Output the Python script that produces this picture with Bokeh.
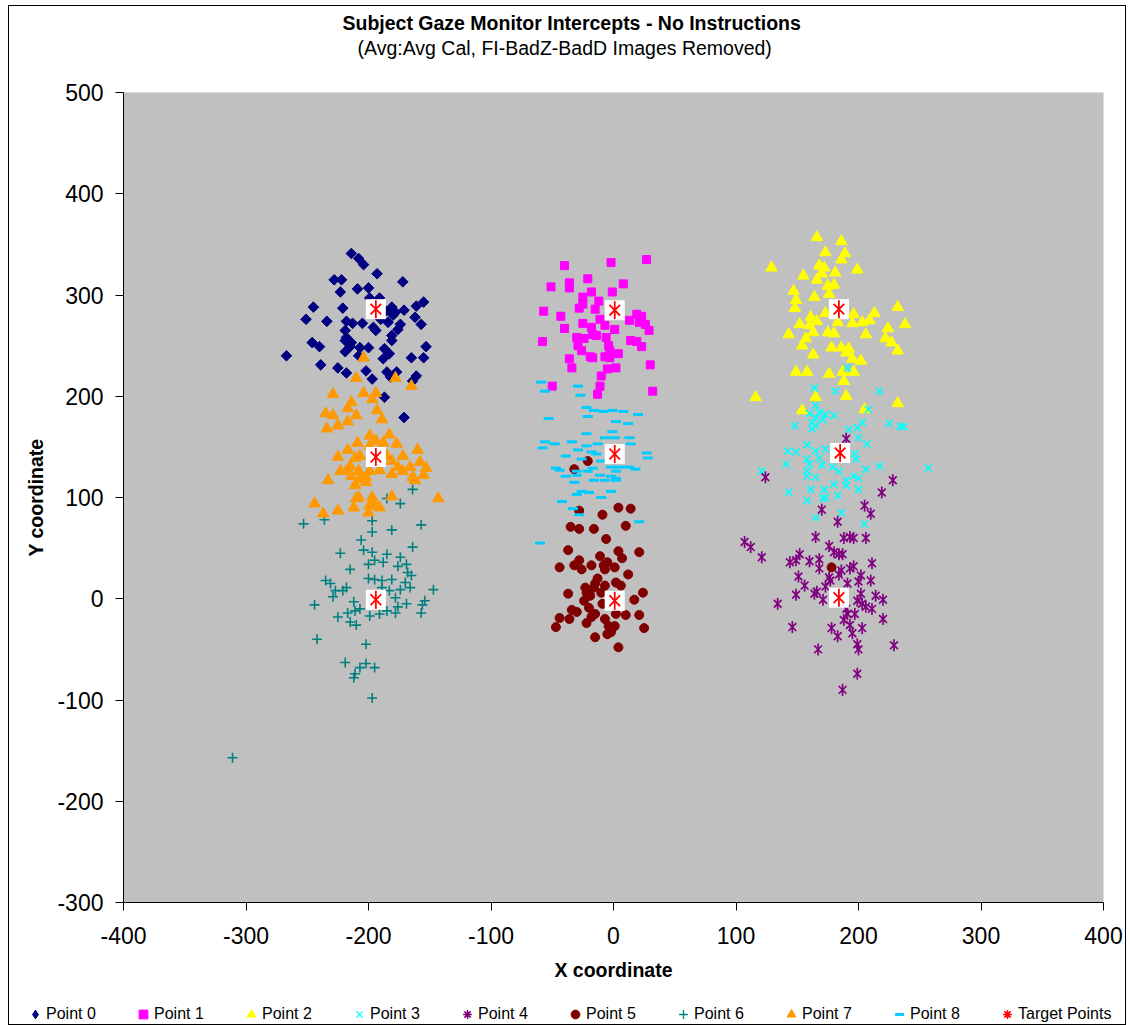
import math
from bokeh.plotting import figure
from bokeh.layouts import column
from bokeh.models import Range1d, Legend, LegendItem, Title, FixedTicker
from bokeh.embed import file_html
from bokeh.resources import INLINE

title_text = "Subject Gaze Monitor Intercepts - No Instructions"
subtitle_text = "(Avg:Avg Cal, FI-BadZ-BadD Images Removed)"
x_label = "X coordinate"
y_label = "Y coordinate"
x_ticks = [-400, -300, -200, -100, 0, 100, 200, 300, 400]
y_ticks = [-300, -200, -100, 0, 100, 200, 300, 400, 500]
series_names = ["Point 0", "Point 1", "Point 2", "Point 3", "Point 4",
                "Point 5", "Point 6", "Point 7", "Point 8", "Target Points"]

p0 = [(-214, 341), (-208, 336), (-204, 330), (-193, 321), (-228, 315), (-222, 315), (-172, 313),
      (-223, 303), (-209, 306), (-200, 307), (-245, 288), (-221, 287), (-251, 276), (-234, 274),
      (-218, 274), (-213, 272), (-205, 272), (-199, 297), (-191, 297), (-181, 288), (-171, 285),
      (-161, 289), (-155, 293), (-162, 278), (-157, 271), (-180, 280), (-174, 271), (-184, 273),
      (-196, 268), (-194, 265), (-219, 265), (-218, 258), (-219, 255), (-181, 260), (-181, 255),
      (-246, 253), (-240, 249), (-214, 253), (-215, 249), (-219, 244), (-207, 248), (-200, 248),
      (-187, 247), (-183, 242), (-188, 237), (-208, 240), (-267, 240), (-153, 249), (-165, 238),
      (-155, 238), (-239, 231), (-225, 228), (-218, 223), (-202, 225), (-197, 217), (-185, 224),
      (-182, 219), (-177, 224), (-161, 220), (-164, 215), (-187, 199), (-171, 179), (-186, 284),
      (-178, 283), (-176, 266), (-190, 276)]
p1 = [(-40, 329), (-2, 332), (27, 335), (-51, 308), (-36, 312), (-36, 307), (-21, 316), (8, 311),
      (-18, 303), (-1, 303), (-25, 298), (-25, 291), (-28, 287), (-12, 294), (-15, 286), (-57, 284),
      (-43, 279), (-11, 276), (13, 275), (19, 281), (23, 279), (21, 273), (26, 271), (29, 265),
      (-40, 267), (-25, 272), (-18, 268), (-7, 270), (1, 266), (-17, 261), (-14, 260), (-30, 258),
      (-24, 257), (-6, 258), (-58, 254), (-29, 250), (-26, 245), (-4, 250), (14, 255), (19, 254),
      (23, 249), (4, 242), (-3, 245), (-19, 239), (-17, 238), (-7, 239), (-3, 238), (-36, 237),
      (-34, 228), (-5, 227), (2, 228), (30, 231), (-10, 220), (-11, 210), (-50, 210), (-13, 202),
      (32, 205)]
p2 = [(166, 357), (186, 353), (173, 342), (189, 341), (129, 327), (186, 335), (168, 329), (172, 327),
      (199, 325), (181, 322), (155, 319), (170, 321), (166, 315), (175, 309), (180, 310), (147, 304),
      (176, 301), (164, 298), (149, 295), (148, 287), (232, 288), (173, 282), (196, 281), (213, 282),
      (161, 278), (166, 274), (152, 271), (160, 270), (183, 273), (195, 272), (203, 273), (209, 275),
      (238, 271), (143, 261), (163, 263), (175, 263), (180, 262), (206, 261), (224, 267), (157, 257),
      (222, 257), (227, 253), (154, 250), (178, 248), (186, 248), (192, 247), (232, 245), (190, 243),
      (163, 241), (195, 237), (202, 235), (149, 224), (158, 224), (176, 222), (187, 224), (196, 224),
      (188, 215), (116, 199), (190, 200), (232, 193), (165, 199), (154, 186), (205, 187)]
p3 = [(191, 228), (164, 208), (181, 205), (217, 205), (208, 187), (165, 191), (160, 183), (168, 184),
      (173, 182), (180, 181), (165, 179), (148, 171), (162, 174), (165, 171), (171, 177), (162, 168),
      (225, 173), (234, 170), (237, 170), (203, 174), (199, 169), (192, 167), (200, 159), (207, 153),
      (158, 152), (142, 146), (149, 145), (165, 146), (173, 148), (168, 139), (197, 143), (198, 138),
      (158, 138), (141, 133), (160, 133), (170, 132), (179, 130), (184, 126), (206, 128), (217, 131),
      (121, 126), (158, 126), (158, 121), (165, 120), (190, 117), (196, 121), (200, 119), (190, 112),
      (180, 113), (200, 108), (161, 108), (172, 108), (143, 105), (183, 102), (158, 97), (171, 99),
      (173, 100), (186, 85), (165, 80), (205, 74), (257, 129)]
p4 = [(190, 158), (124, 120), (228, 117), (219, 105), (170, 88), (205, 92), (210, 84), (183, 76),
      (165, 61), (188, 60), (193, 61), (196, 60), (206, 60), (107, 56), (112, 51), (121, 41), (176, 52),
      (152, 44), (149, 38), (144, 36), (160, 37), (168, 39), (180, 46), (184, 44), (187, 44), (211, 35),
      (168, 30), (193, 30), (196, 32), (186, 28), (202, 23), (151, 22), (176, 21), (184, 24), (200, 17),
      (210, 18), (156, 13), (173, 12), (177, 18), (191, 15), (149, 4), (164, 5), (166, 7), (171, -1),
      (134, -5), (202, 5), (214, 3), (220, -1), (199, -2), (203, -5), (206, -8), (211, -10), (190, -10),
      (191, -15), (197, -15), (188, -21), (193, -26), (220, -20), (146, -28), (178, -29), (183, -37),
      (195, -34), (203, -29), (229, -46), (167, -50), (199, -45), (200, -50), (199, -74), (187, -90)]
p5 = [(-21, 136), (-32, 128), (-28, 87), (4, 90), (14, 89), (-9, 83), (-35, 71), (-28, 69), (-16, 69),
      (10, 72), (-6, 59), (-37, 48), (4, 47), (21, 46), (-11, 42), (7, 40), (-44, 31), (-32, 33),
      (-28, 38), (-26, 29), (-18, 33), (-8, 33), (-5, 36), (-7, 29), (1, 31), (12, 24), (-13, 20),
      (-15, 15), (-7, 13), (2, 16), (6, 13), (-23, 11), (-16, 11), (-37, 5), (-22, 6), (-19, 3),
      (-10, 6), (24, 6), (17, -1), (-24, -2), (-9, -5), (-34, -11), (-30, -13), (-20, -9), (-15, -15),
      (-18, -18), (2, -15), (10, -16), (21, -16), (-44, -19), (-36, -20), (-47, -28), (-22, -24),
      (-7, -20), (-4, -27), (1, -27), (-2, -33), (-5, -35), (25, -29), (-15, -38), (4, -48), (178, 31)]
p6 = [(-164, 108), (-185, 99), (-174, 94), (-253, 74), (-236, 78), (-197, 77), (-197, 66), (-181, 68),
      (-157, 73), (-206, 58), (-223, 45), (-204, 48), (-197, 46), (-185, 44), (-164, 51), (-195, 38),
      (-200, 34), (-188, 36), (-174, 41), (-176, 32), (-169, 34), (-215, 29), (-168, 26), (-165, 23),
      (-235, 18), (-231, 15), (-200, 20), (-195, 19), (-189, 18), (-181, 19), (-170, 16), (-166, 11),
      (-227, 8), (-218, 11), (-221, 8), (-229, 2), (-189, 11), (-183, 8), (-174, 9), (-147, 9),
      (-178, 1), (-244, -6), (-212, -3), (-154, -2), (-169, -5), (-156, -6), (-176, -8), (-185, -12),
      (-178, -14), (-191, -15), (-199, -17), (-207, -10), (-211, -12), (-217, -14), (-225, -18),
      (-157, -14), (-215, -23), (-210, -26), (-242, -40), (-202, -45), (-219, -63), (-207, -68),
      (-202, -64), (-195, -68), (-211, -74), (-212, -78), (-197, -98), (-311, -157)]
p7 = [(-204, 238), (-210, 218), (-178, 218), (-165, 210), (-229, 202), (-204, 203), (-194, 203),
      (-214, 194), (-197, 197), (-217, 188), (-235, 183), (-229, 181), (-210, 181), (-193, 186),
      (-189, 177), (-217, 175), (-234, 168), (-225, 171), (-199, 161), (-183, 162), (-209, 154),
      (-194, 156), (-188, 154), (-177, 153), (-217, 147), (-199, 151), (-160, 147), (-172, 141),
      (-225, 140), (-211, 139), (-207, 141), (-185, 141), (-181, 136), (-215, 131), (-218, 126),
      (-223, 126), (-208, 126), (-199, 126), (-191, 127), (-176, 130), (-166, 130), (-158, 135),
      (-153, 129), (-172, 126), (-214, 121), (-181, 123), (-164, 120), (-155, 122), (-202, 120),
      (-207, 118), (-233, 117), (-211, 112), (-197, 100), (-181, 101), (-244, 94), (-143, 99),
      (-199, 92), (-210, 99), (-202, 115), (-162, 117), (-237, 84), (-225, 87), (-212, 90), (-208, 100),
      (-196, 95), (-191, 90), (-200, 85)]
p8 = [(-59, 214), (-56, 205), (-29, 210), (-27, 201), (-22, 189), (-16, 186), (-8, 185), (-1, 186),
      (8, 185), (20, 182), (-53, 178), (-21, 180), (2, 175), (12, 173), (-22, 163), (-1, 165), (-56, 155),
      (-48, 153), (-34, 155), (-7, 159), (1, 159), (13, 159), (-58, 149), (-22, 151), (-13, 153),
      (14, 153), (-29, 147), (-18, 145), (-14, 143), (-39, 141), (-26, 138), (-10, 136), (27, 144),
      (28, 139), (-47, 129), (-44, 127), (-30, 126), (-21, 126), (-17, 129), (-2, 130), (5, 130),
      (13, 130), (18, 128), (2, 126), (-39, 121), (-30, 122), (-11, 122), (-2, 121), (2, 119),
      (-16, 117), (-7, 117), (2, 117), (-32, 115), (-26, 106), (-20, 105), (-30, 103), (-2, 106),
      (-10, 100), (-42, 96), (-33, 89), (-28, 83), (21, 76), (-60, 55)]
target_x = [-194, -194, -194, 1, 1, 1, 184, 185, 184]
target_y = [286, 140, -1, 285, 143, -2, 286, 144, 1]

FONT = "Liberation Sans"

# marker styles per series (list of scatter kwargs each)
styles = [
    [dict(marker="square", angle=math.pi / 4, size=7.5, fill_color="#000080", line_color="#000080")],
    [dict(marker="square", size=8, fill_color="#FF00FF", line_color="#FF00FF")],
    [dict(marker="triangle", size=11.5, fill_color="#FFFF00", line_color="#FFFF00")],
    [dict(marker="x", size=10, line_color="#00FFFF", line_width=1.6)],
    [dict(marker="x", size=11, line_color="#800080", line_width=1.7),
     dict(marker="dash", angle=math.pi / 2, size=12, line_color="#800080", line_width=1.7)],
    [dict(marker="circle", size=9, fill_color="#800000", line_color="#800000")],
    [dict(marker="cross", size=10, line_color="#008080", line_width=1.6)],
    [dict(marker="triangle", size=11.5, fill_color="#FF9900", line_color="#FF9900")],
    [dict(marker="dash", size=10, line_color="#00CCFF", line_width=3)],
    [dict(marker="x", size=15, line_color="#FF0000", line_width=1.8),
     dict(marker="dash", angle=math.pi / 2, size=18, line_color="#FF0000", line_width=1.8)],
]
# legend swatches (the legend draws markers unrotated)
legend_styles = [
    [dict(marker="diamond", fill_color="#000080", line_color="#000080")],
    [dict(marker="square", fill_color="#FF00FF", line_color="#FF00FF")],
    [dict(marker="triangle", fill_color="#FFFF00", line_color="#FFFF00")],
    [dict(marker="x", line_color="#00FFFF", line_width=1.3)],
    [dict(marker="asterisk", line_color="#800080", line_width=1.5)],
    [dict(marker="circle", fill_color="#800000", line_color="#800000")],
    [dict(marker="cross", line_color="#008080", line_width=1.3)],
    [dict(marker="triangle", fill_color="#FF9900", line_color="#FF9900")],
    [dict(marker="dash", line_color="#00CCFF", line_width=3)],
    [dict(marker="asterisk", line_color="#FF0000", line_width=1.5)],
]

p = figure(width=1118, height=990, output_backend="svg", toolbar_location=None,
           x_range=Range1d(-400, 400), y_range=Range1d(-300, 500),
           min_border_left=114, min_border_right=22, min_border_top=86, min_border_bottom=94,
           background_fill_color="#C0C0C0", border_fill_color="white", outline_line_color=None)

p.xgrid.grid_line_color = None
p.ygrid.grid_line_color = None
p.xaxis.ticker = FixedTicker(ticks=x_ticks)
p.yaxis.ticker = FixedTicker(ticks=y_ticks)
p.xaxis.major_label_overrides = {t: str(t) for t in x_ticks}
p.yaxis.major_label_overrides = {t: str(t) for t in y_ticks}
for ax in (p.xaxis[0], p.yaxis[0]):
    ax.axis_line_color = "black"
    ax.major_tick_line_color = "black"
    ax.major_tick_out = 8
    ax.major_tick_in = 0
    ax.minor_tick_out = 0
    ax.minor_tick_in = 0
    ax.major_label_text_font = FONT
    ax.major_label_text_font_size = "23px"
    ax.major_label_text_color = "black"
    ax.axis_label_text_font = FONT
    ax.axis_label_text_font_size = "19.5px"
    ax.axis_label_text_font_style = "bold"
    ax.axis_label_text_color = "black"
p.xaxis.axis_label = x_label
p.yaxis.axis_label = y_label
p.xaxis.major_label_standoff = 16
p.yaxis.major_label_standoff = 12
p.xaxis.axis_label_standoff = 12
p.yaxis.axis_label_standoff = 7


def xs(pts):
    return [a for a, b in pts]


def ys(pts):
    return [b for a, b in pts]


series_pts = [p0, p1, p2, p3, p4, p5, p6, p7, p8]
for pts, st in zip(series_pts, styles[:9]):
    for kw in st:
        p.scatter(xs(pts), ys(pts), **kw)
p.scatter(target_x, target_y, marker="square", size=20, fill_color="white", line_color=None)
for kw in styles[9]:
    p.scatter(target_x, target_y, **kw)

# titles: first added sits nearest the frame
p.add_layout(Title(text=" ", text_font_size="29px", standoff=0), "above")
p.add_layout(Title(text=subtitle_text, align="left", offset=234, standoff=0, text_font=FONT,
                   text_font_size="19.5px", text_font_style="normal", text_color="black"), "above")
p.add_layout(Title(text=title_text, align="left", offset=219, standoff=2, text_font=FONT,
                   text_font_size="19.5px", text_font_style="bold", text_color="black"), "above")

# legend strip below the chart
lg = figure(width=1118, height=28, output_backend="svg", toolbar_location=None,
            x_range=Range1d(0, 1), y_range=Range1d(0, 1), min_border=0,
            x_axis_location=None, y_axis_location=None,
            background_fill_color="white", border_fill_color="white", outline_line_color=None)
lg.frame_align = False
lg.xgrid.grid_line_color = None
lg.ygrid.grid_line_color = None
items = []
for name, st in zip(series_names, legend_styles):
    rs = [lg.scatter([-10], [-10], **kw) for kw in st]
    items.append(LegendItem(label=name, renderers=rs))
legend = Legend(items=items, orientation="horizontal", location=(15, -1),
                glyph_width=22, glyph_height=22, label_standoff=0, label_width=60, spacing=26,
                padding=0, margin=0, border_line_color=None, background_fill_alpha=0,
                label_text_font=FONT, label_text_font_size="16px", label_text_color="black")
lg.add_layout(legend)

layout = column(p, lg, spacing=0)
layout.styles = {"border": "1px solid black", "margin-left": "8px", "margin-top": "5px",
                 "width": "1118px"}

open("out.html", "w").write(file_html(layout, INLINE))
